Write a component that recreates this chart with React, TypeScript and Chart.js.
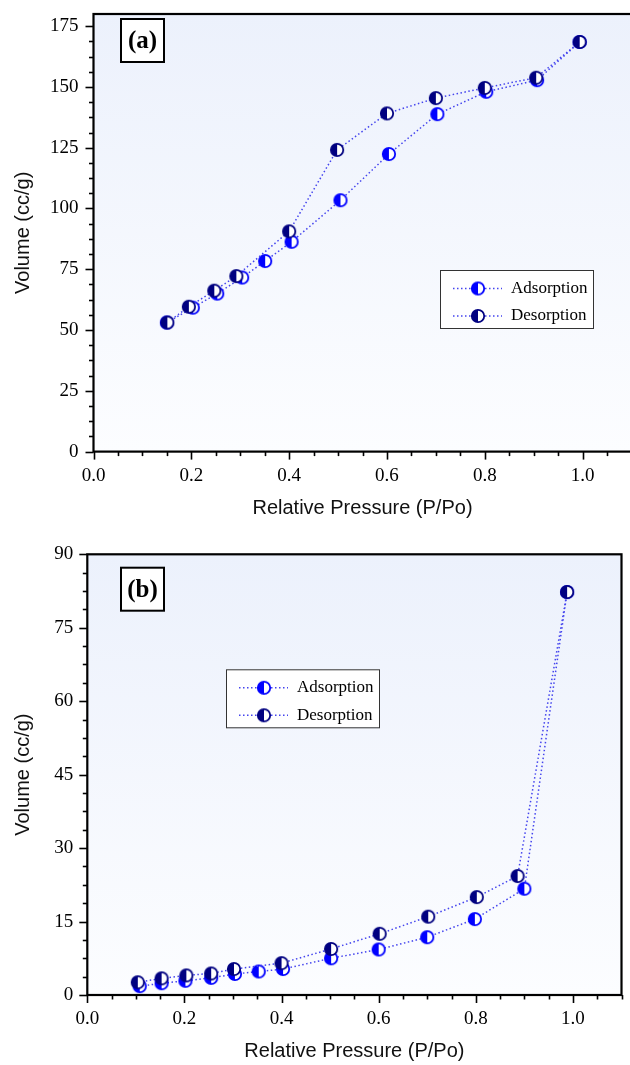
import React, { useEffect, useRef } from 'react';
import { Chart, registerables } from 'chart.js';

Chart.register(...registerables);

// ---------- data ----------
const X_TICKS = [0, 0.2, 0.4, 0.6, 0.8, 1.0];
const Y_TICKS_A = [0, 25, 50, 75, 100, 125, 150, 175];
const Y_TICKS_B = [0, 15, 30, 45, 60, 75, 90];

// (a)
const ADS_A_P = [0.15, 0.203, 0.253, 0.304, 0.351, 0.405, 0.505, 0.604, 0.703, 0.803, 0.907, 0.994];
const ADS_A_V = [53.1, 59.2, 65.0, 71.6, 78.4, 86.3, 103.4, 122.4, 138.8, 148.0, 152.8, 168.5];
const DES_A_P = [0.994, 0.905, 0.8, 0.7, 0.6, 0.498, 0.4, 0.292, 0.247, 0.195, 0.151];
const DES_A_V = [168.5, 153.8, 149.6, 145.4, 139.1, 124.1, 90.6, 72.2, 66.2, 59.6, 53.1];

// (b)
const ADS_B_P = [0.108, 0.153, 0.202, 0.255, 0.304, 0.353, 0.403, 0.502, 0.6, 0.7, 0.798, 0.9, 0.988];
const ADS_B_V = [1.8, 2.4, 2.9, 3.5, 4.3, 4.8, 5.3, 7.5, 9.3, 11.8, 15.5, 21.7, 82.3];
const DES_B_P = [0.988, 0.886, 0.802, 0.702, 0.602, 0.502, 0.4, 0.302, 0.255, 0.204, 0.153, 0.104];
const DES_B_V = [82.3, 24.3, 20.0, 16.0, 12.5, 9.4, 6.5, 5.3, 4.4, 4.0, 3.4, 2.6];

const SERIES_NAMES = ['Adsorption', 'Desorption'];
const X_LABEL = 'Relative Pressure (P/Po)';
const Y_LABEL = 'Volume (cc/g)';

// ---------- styles ----------
const ADS_COLOR = '#0000ff';
const DES_COLOR = '#000080';
const LINE_COLOR = '#4444ee';

function makeMarker(color: string): HTMLCanvasElement {
  const c = document.createElement('canvas');
  c.width = 16;
  c.height = 16;
  const g = c.getContext('2d')!;
  const cx = 8, cy = 8, r = 6.2;
  g.beginPath();
  g.arc(cx, cy, r, 0, Math.PI * 2);
  g.fillStyle = '#ffffff';
  g.fill();
  g.beginPath();
  g.moveTo(cx, cy - r);
  g.arc(cx, cy, r, -Math.PI / 2, Math.PI / 2, true);
  g.closePath();
  g.fillStyle = color;
  g.fill();
  g.beginPath();
  g.arc(cx, cy, r, 0, Math.PI * 2);
  g.lineWidth = 1.8;
  g.strokeStyle = color;
  g.stroke();
  return c;
}

type PanelCfg = {
  top: number;
  width: number;
  height: number;
  padLeft: number;
  padTop: number;
  padRight: number;
  yAxisWidth: number;
  xAxisHeight: number;
  yMax: number;
  yTicks: number[];
  yMinorStep: number;
  yPad: number;
  adsP: number[];
  adsV: number[];
  desP: number[];
  desV: number[];
  label: string;
  labelBox: { x: number; y: number };
  legendBox: { x: number; y: number };
};

const PANEL_A: PanelCfg = {
  top: 0,
  width: 640,
  height: 520,
  padLeft: 11,
  padTop: 14,
  padRight: 8,
  yAxisWidth: 82.5,
  xAxisHeight: 68.4,
  yMax: 180,
  yTicks: Y_TICKS_A,
  yMinorStep: 6.25,
  yPad: 15,
  adsP: ADS_A_P,
  adsV: ADS_A_V,
  desP: DES_A_P,
  desV: DES_A_V,
  label: '(a)',
  labelBox: { x: 121, y: 19 },
  legendBox: { x: 440, y: 270 },
};

const PANEL_B: PanelCfg = {
  top: 520,
  width: 630,
  height: 543,
  padLeft: 11,
  padTop: 34.3,
  padRight: 1.7,
  yAxisWidth: 76.3,
  xAxisHeight: 68,
  yMax: 90,
  yTicks: Y_TICKS_B,
  yMinorStep: 3.75,
  yPad: 14,
  adsP: ADS_B_P,
  adsV: ADS_B_V,
  desP: DES_B_P,
  desV: DES_B_V,
  label: '(b)',
  labelBox: { x: 121, y: 47.7 },
  legendBox: { x: 226, y: 149.3 },
};

function Panel({ cfg }: { cfg: PanelCfg }) {
  const ref = useRef<HTMLCanvasElement>(null);

  useEffect(() => {
    const canvas = ref.current!;
    const adsMarker = makeMarker(ADS_COLOR);
    const desMarker = makeMarker(DES_COLOR);
    const X_MAX = 1.1;

    const decor = {
      id: 'decor',
      beforeDraw(chart: any) {
        const { ctx, chartArea: a } = chart;
        ctx.save();
        const grad = ctx.createLinearGradient(0, a.top, 0, a.bottom);
        grad.addColorStop(0, '#ecf1fc');
        grad.addColorStop(1, '#fcfdff');
        ctx.fillStyle = grad;
        ctx.fillRect(a.left, a.top, a.right - a.left, a.bottom - a.top);
        ctx.restore();
      },
      afterDraw(chart: any) {
        const { ctx, chartArea: a, scales } = chart;
        const xs = scales.x;
        const ys = scales.y;
        ctx.save();
        // ticks
        ctx.strokeStyle = '#000';
        ctx.lineWidth = 1.6;
        for (let i = 0; i <= 22; i++) {
          const v = i * 0.05;
          if (v > X_MAX + 1e-9) break;
          const major = X_TICKS.some((t) => Math.abs(t - v) < 1e-6);
          const px = Math.round(xs.getPixelForValue(v)) + 0.5;
          const len = major ? 8 : 4.5;
          ctx.beginPath();
          ctx.moveTo(px, a.bottom);
          ctx.lineTo(px, a.bottom + len);
          ctx.stroke();
        }
        for (let i = 0; i * cfg.yMinorStep <= cfg.yMax + 1e-9; i++) {
          const v = i * cfg.yMinorStep;
          const major = cfg.yTicks.some((t) => Math.abs(t - v) < 1e-6);
          const py = Math.round(ys.getPixelForValue(v)) + 0.5;
          const len = major ? 8 : 4.5;
          ctx.beginPath();
          ctx.moveTo(a.left, py);
          ctx.lineTo(a.left - len, py);
          ctx.stroke();
        }
        // frame
        ctx.lineWidth = 2.2;
        ctx.strokeRect(a.left, a.top, a.right - a.left, a.bottom - a.top);

        // legend
        const lb = cfg.legendBox;
        const lw = 153, lh = 58;
        ctx.fillStyle = '#ffffff';
        ctx.fillRect(lb.x, lb.y, lw, lh);
        ctx.lineWidth = 1;
        ctx.strokeStyle = '#333333';
        ctx.strokeRect(lb.x + 0.5, lb.y + 0.5, lw, lh);
        const rows = [
          { name: SERIES_NAMES[0], m: adsMarker, y: lb.y + 18.5 },
          { name: SERIES_NAMES[1], m: desMarker, y: lb.y + 46 },
        ];
        rows.forEach((r) => {
          ctx.save();
          ctx.setLineDash([1.5, 2.5]);
          ctx.strokeStyle = LINE_COLOR;
          ctx.lineWidth = 1.5;
          ctx.beginPath();
          ctx.moveTo(lb.x + 13, r.y);
          ctx.lineTo(lb.x + 62, r.y);
          ctx.stroke();
          ctx.restore();
          ctx.drawImage(r.m, lb.x + 38 - 8, r.y - 8);
          ctx.fillStyle = '#000';
          ctx.font = '17px "Liberation Serif"';
          ctx.textBaseline = 'middle';
          ctx.textAlign = 'left';
          ctx.fillText(r.name, lb.x + 71, r.y);
        });

        // panel label
        const pb = cfg.labelBox;
        ctx.fillStyle = '#ffffff';
        ctx.fillRect(pb.x, pb.y, 43, 43);
        ctx.lineWidth = 2;
        ctx.strokeStyle = '#000';
        ctx.strokeRect(pb.x, pb.y, 43, 43);
        ctx.fillStyle = '#000';
        ctx.font = 'bold 25px "Liberation Serif"';
        ctx.textAlign = 'center';
        ctx.textBaseline = 'middle';
        ctx.fillText(cfg.label, pb.x + 21.5, pb.y + 22.5);
        ctx.restore();
      },
    };

    const lineStyle = {
      showLine: true,
      borderColor: LINE_COLOR,
      borderWidth: 1.5,
      borderDash: [1.5, 2.5],
      pointRadius: 7,
      pointHoverRadius: 7,
      tension: 0,
    };

    const chart = new Chart(canvas, {
      type: 'scatter',
      data: {
        datasets: [
          {
            label: SERIES_NAMES[1],
            data: cfg.desP.map((p, i) => ({ x: p, y: cfg.desV[i] })),
            pointStyle: desMarker,
            ...lineStyle,
          } as any,
          {
            label: SERIES_NAMES[0],
            data: cfg.adsP.map((p, i) => ({ x: p, y: cfg.adsV[i] })),
            pointStyle: adsMarker,
            ...lineStyle,
          } as any,
        ],
      },
      options: {
        animation: false,
        responsive: false,
        maintainAspectRatio: false,
        layout: { padding: { left: cfg.padLeft, top: cfg.padTop, right: cfg.padRight, bottom: 0 } },
        plugins: { legend: { display: false }, tooltip: { enabled: false } },
        scales: {
          x: {
            type: 'linear',
            min: 0,
            max: X_MAX,
            grid: { display: false, drawTicks: false },
            border: { display: false },
            afterBuildTicks: (s: any) => {
              s.ticks = X_TICKS.map((v) => ({ value: v }));
            },
            afterFit: (s: any) => {
              s.height = cfg.xAxisHeight;
              s.paddingLeft = 0;
              s.paddingRight = 0;
              s.paddingTop = 0;
              s.paddingBottom = 0;
            },
            ticks: {
              padding: 13,
              autoSkip: false,
              maxRotation: 0,
              color: '#000',
              font: { family: 'Liberation Serif', size: 19 },
              callback: (v: any) => Number(v).toFixed(1),
            },
            title: {
              display: true,
              text: X_LABEL,
              color: '#111',
              padding: 0,
              font: { family: 'Liberation Sans', size: 20 },
            },
          },
          y: {
            type: 'linear',
            min: 0,
            max: cfg.yMax,
            grid: { display: false, drawTicks: false },
            border: { display: false },
            afterBuildTicks: (s: any) => {
              s.ticks = cfg.yTicks.map((v) => ({ value: v }));
            },
            afterFit: (s: any) => {
              s.width = cfg.yAxisWidth;
              s.paddingTop = 0;
              s.paddingBottom = 0;
              s.paddingLeft = 0;
              s.paddingRight = 0;
            },
            ticks: {
              padding: cfg.yPad,
              autoSkip: false,
              color: '#000',
              font: { family: 'Liberation Serif', size: 19 },
              callback: (v: any) => String(v),
            },
            title: {
              display: true,
              text: Y_LABEL,
              color: '#111',
              padding: 0,
              font: { family: 'Liberation Sans', size: 20 },
            },
          },
        },
      } as any,
      plugins: [decor],
    });
    return () => chart.destroy();
  }, [cfg]);

  return (
    <canvas
      ref={ref}
      width={cfg.width}
      height={cfg.height}
      style={{ position: 'absolute', left: 0, top: cfg.top, width: cfg.width, height: cfg.height }}
    />
  );
}

export default function App() {
  return (
    <div
      style={{
        position: 'absolute',
        left: 0,
        top: 0,
        width: 630,
        height: 1065,
        overflow: 'hidden',
        background: '#ffffff',
      }}
    >
      <Panel cfg={PANEL_A} />
      <Panel cfg={PANEL_B} />
    </div>
  );
}
